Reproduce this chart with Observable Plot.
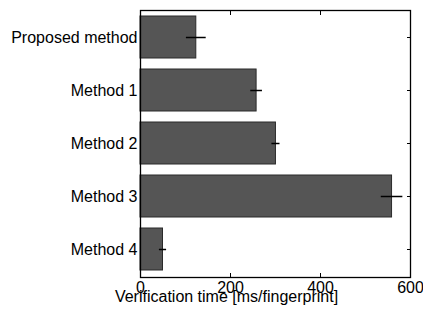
<!DOCTYPE html>
<html>
<head>
<meta charset="utf-8">
<script src="https://cdn.jsdelivr.net/npm/d3@7"></script>
<script src="https://cdn.jsdelivr.net/npm/@observablehq/plot@0.6"></script>
<style>
  html, body { margin: 0; padding: 0; background: #fff; }
  #chart svg { display: block; }
</style>
</head>
<body>
<div id="chart"></div>
<script>
const methods = ["Proposed method", "Method 1", "Method 2", "Method 3", "Method 4"];
const times = [124, 258, 301, 559, 50];
const errors = [22, 13, 9, 24, 8];
const xTicks = [0, 200, 400, 600];
const xLabel = "Verification time [ms/fingerprint]";

const data = methods.map((m, i) => ({method: m, time: times[i], err: errors[i]}));

const plot = Plot.plot({
  width: 423,
  height: 311,
  marginLeft: 140,
  marginRight: 13,
  marginTop: 10,
  marginBottom: 34,
  style: {fontFamily: "'Liberation Sans', Arial, Helvetica, sans-serif", fontSize: "16px", color: "#000", background: "#fff"},
  x: {domain: [0, 600], ticks: xTicks},
  y: {domain: methods, paddingInner: 0.2, paddingOuter: 0.1},
  marks: [
    Plot.barX(data, {x: "time", y: "method", fill: "#555555", stroke: "#2a2a2a", strokeWidth: 1}),
    Plot.ruleY(data, {y: "method", x1: d => d.time - d.err, x2: d => d.time + d.err, stroke: "#000", strokeWidth: 1.5}),
    Plot.axisX(xTicks, {anchor: "bottom", tickSize: -4, fill: "none", label: null}),
    Plot.axisX(xTicks, {anchor: "top", tickSize: -4, fill: "none", label: null}),
    Plot.axisX(xTicks, {anchor: "bottom", tickSize: 0, tickPadding: 4, fontSize: 16, fill: "#000", label: null}),
    Plot.axisY({anchor: "right", tickSize: -4, fill: "none", label: null}),
    Plot.axisY({anchor: "left", tickSize: 0, tickPadding: 3, fontSize: 16, fill: "#000", label: null}),
    Plot.frame({stroke: "#000", strokeWidth: 1.3}),
    Plot.text([xLabel], {text: d => d, frameAnchor: "bottom", dx: -49, dy: 24, lineAnchor: "bottom", fontSize: 16, fill: "#000"})
  ]
});
document.getElementById("chart").appendChild(plot);
</script>
</body>
</html>
